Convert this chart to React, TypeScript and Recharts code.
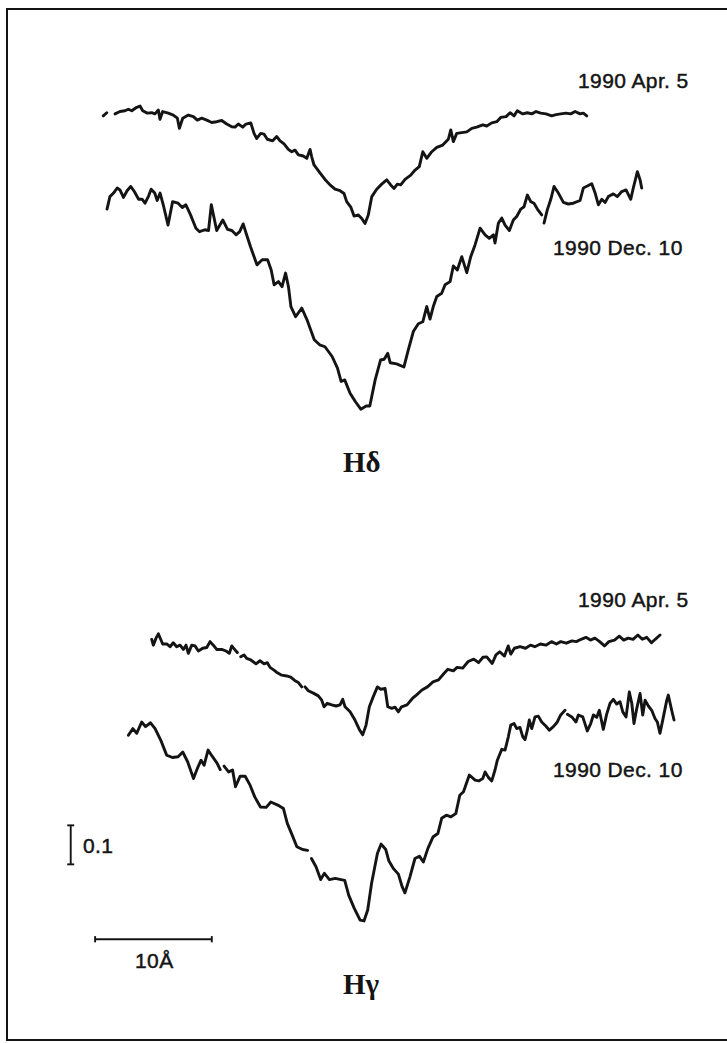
import { LineChart, Line, XAxis, YAxis, ReferenceLine } from 'recharts';

// wavelength offsets from line centre (Å) and relative flux
// null marks a break in the trace

// H-delta, 1990 Apr. 5
const hdAprWave = [
  -22.26, -21.96, -21.8, -21.25, -20.83, -20.40, -20.11, -19.82, -19.39, -19.11,
  -18.88, -18.49, -18.11, -17.83, -17.54, -17.40, -17.17, -16.69, -16.26, -15.91,
  -15.74, -15.45, -14.97, -14.54, -14.20, -13.82, -13.39, -12.97, -12.54, -12.11,
  -11.68, -11.25, -10.97, -10.69, -10.31, -10.03, -9.62, -9.34, -9.11, -8.77,
  -8.48, -8.20, -7.74, -7.40, -7.11, -6.77, -6.40, -6.11, -5.83, -5.54,
  -5.12, -4.82, -4.54, -4.40, -4.20, -3.69, -3.26, -2.83, -2.40, -1.97,
  -1.63, -1.40, -1.05, -0.77, -0.40, -0.11, 0.17, 0.45, 0.75, 1.17,
  1.60, 2.03, 2.37, 2.66, 2.94, 3.23, 3.60, 4.09, 4.46, 4.82,
  5.12, 5.46, 5.89, 6.32, 6.83, 7.31, 7.52, 7.74, 8.03, 8.46,
  8.89, 9.32, 9.74, 10.26, 10.60, 11.03, 11.46, 11.80, 12.26, 12.60,
  12.94, 13.22, 13.69, 14.08, 14.46, 14.83, 15.23, 15.68, 16.17, 16.54,
  16.94, 17.40, 17.80, 18.17, 18.60, 18.88, 19.17,
];
const hdAprFlux = [
  0.985, 0.993, null, 0.990, 0.996, 0.998, 1.002, 0.998, 1.007, 1.010,
  0.998, 0.992, 0.993, 0.990, 1.000, 0.976, 0.996, 0.992, 0.987, 0.979,
  0.953, 0.979, 0.987, 0.983, 0.974, 0.979, 0.974, 0.968, 0.970, 0.973,
  0.964, 0.957, 0.956, 0.964, 0.956, 0.964, 0.967, 0.940, 0.927, 0.940,
  0.938, 0.925, 0.921, 0.932, 0.921, 0.913, 0.899, 0.893, 0.897, 0.885,
  0.882, 0.876, 0.899, 0.880, 0.859, 0.839, 0.822, 0.808, 0.797, 0.793,
  0.786, 0.765, 0.751, 0.728, 0.731, 0.722, 0.709, 0.731, 0.778, 0.797,
  0.810, 0.821, 0.808, 0.799, 0.810, 0.808, 0.822, 0.833, 0.846, 0.855,
  0.893, 0.876, 0.893, 0.904, 0.910, 0.925, 0.949, 0.919, 0.940, 0.942,
  0.944, 0.953, 0.956, 0.962, 0.959, 0.967, 0.970, 0.981, 0.983, 0.993,
  0.985, 0.998, 0.990, 0.993, 0.990, 0.996, 0.992, 0.990, 0.985, 0.988,
  0.990, 0.992, 0.990, 0.996, 0.990, 0.992, 0.985,
];

// H-delta, 1990 Dec. 10
const hdDecWave = [
  -21.94, -21.69, -21.38, -21.07, -20.83, -20.53, -20.22, -19.91, -19.60, -19.23,
  -18.92, -18.68, -18.37, -18.16, -17.85, -17.64, -17.39, -17.08, -16.71, -16.32,
  -15.85, -15.49, -15.18, -14.78, -14.32, -14.01, -13.55, -13.24, -13.00, -12.79,
  -12.54, -12.02, -11.61, -11.24, -10.88, -10.57, -10.27, -10.02, -9.65, -9.09,
  -8.64, -8.18, -7.87, -7.62, -7.25, -6.94, -6.64, -6.39, -6.18, -5.78,
  -5.25, -4.80, -4.18, -3.72, -3.26, -2.65, -2.19, -1.88, -1.57, -1.11,
  -0.65, -0.19, 0.27, 0.58, 1.04, 1.50, 1.81, 2.12, 2.33, 2.88,
  3.50, 3.88, 4.31, 4.74, 5.12, 5.46, 5.74, 6.02, 6.32, 6.74,
  7.03, 7.46, 7.74, 8.08, 8.46, 8.89, 9.23, 9.60, 10.03, 10.46,
  10.82, 11.17, 11.31, 11.60, 11.89, 12.17, 12.54, 12.88, 13.17, 13.52,
  13.80, 14.08, 14.37, 14.65, 14.94, 15.31, 15.41, 15.51, 15.79, 16.09,
  16.37, 16.74, 17.17, 17.59, 18.02, 18.60, 18.88, 19.22, 19.60, 19.88,
  20.17, 20.46, 20.74, 21.02, 21.45, 21.79, 22.17, 22.54, 22.94, 23.16,
  23.51, 23.74, 23.88,
];
const hdDecFlux = [
  0.938, 0.970, 0.979, 0.992, 0.987, 0.968, 0.985, 0.996, 0.983, 0.963,
  0.963, 0.953, 0.972, 0.989, 0.979, 0.960, 0.979, 0.944, 0.897, 0.957,
  0.953, 0.942, 0.949, 0.923, 0.889, 0.880, 0.885, 0.883, 0.949, 0.919,
  0.883, 0.910, 0.886, 0.883, 0.872, 0.880, 0.900, 0.876, 0.842, 0.795,
  0.808, 0.808, 0.782, 0.744, 0.752, 0.739, 0.774, 0.739, 0.688, 0.662,
  0.684, 0.654, 0.603, 0.590, 0.585, 0.560, 0.530, 0.496, 0.500, 0.466,
  0.444, 0.425, 0.433, 0.433, 0.500, 0.551, 0.553, 0.568, 0.544, 0.541,
  0.533, 0.577, 0.624, 0.644, 0.649, 0.688, 0.656, 0.688, 0.714, 0.722,
  0.744, 0.752, 0.792, 0.782, 0.816, 0.775, 0.816, 0.846, 0.889, 0.872,
  0.863, 0.872, 0.851, 0.902, 0.915, 0.897, 0.883, 0.910, 0.919, 0.938,
  0.944, 0.974, 0.957, 0.953, 0.938, 0.923, null, 0.902, 0.936, 0.963,
  0.996, 0.979, 0.955, 0.951, 0.953, 0.960, 0.992, 0.997, 1.003, 0.980,
  0.949, 0.963, 0.955, 0.970, 0.977, 0.970, 0.983, 0.987, 0.963, 0.992,
  1.034, 1.013, 0.992,
];

// H-gamma, 1990 Apr. 5
const hgAprWave = [
  -18.11, -17.97, -17.74, -17.54, -17.34, -17.17, -16.82, -16.54, -16.26, -15.97,
  -15.68, -15.40, -15.17, -14.97, -14.68, -14.40, -14.11, -13.74, -13.39, -13.11,
  -12.83, -12.54, -12.11, -11.74, -11.46, -11.25, -10.97, -10.77, -10.62, -10.48,
  -10.20, -9.97, -9.62, -9.17, -8.83, -8.48, -8.20, -7.97, -7.63, -7.34,
  -6.97, -6.54, -6.20, -5.83, -5.54, -5.25, -5.11, -4.97, -4.69, -4.26,
  -3.83, -3.54, -3.34, -3.06, -2.68, -2.31, -1.97, -1.74, -1.54, -1.11,
  -0.69, -0.32, -0.03, 0.26, 0.54, 0.88, 1.23, 1.52, 1.89, 2.12,
  2.46, 2.74, 3.03, 3.30, 3.77, 4.25, 4.57, 5.05, 5.52, 6.00,
  6.47, 6.95, 7.27, 7.74, 8.06, 8.54, 9.01, 9.49, 9.90, 10.28,
  10.60, 11.07, 11.39, 11.71, 12.12, 12.44, 12.66, 12.97, 13.45, 13.93,
  14.35, 14.72, 15.20, 15.67, 16.15, 16.57, 16.94, 17.42, 17.90, 18.28,
  18.69, 19.10, 19.49, 19.87, 20.28, 20.69, 21.07, 21.55, 21.96, 22.34,
  22.72, 23.14, 23.55, 23.93, 24.31, 24.72, 25.04, 25.45,
];
const hgAprFlux = [
  0.989, 0.974, 0.992, 1.003, 0.989, 0.977, 0.977, 0.970, 0.980, 0.970,
  0.974, 0.963, 0.974, 0.953, 0.974, 0.972, 0.959, 0.966, 0.968, 0.983,
  0.974, 0.963, 0.963, 0.959, 0.953, 0.972, 0.962, 0.955, null, 0.944,
  0.949, 0.940, 0.936, 0.926, 0.934, 0.926, 0.929, 0.917, 0.910, 0.903,
  0.897, 0.895, 0.892, 0.883, 0.878, 0.867, null, 0.867, 0.857, 0.851,
  0.844, 0.833, 0.816, 0.825, 0.821, 0.818, 0.821, 0.835, 0.816, 0.803,
  0.782, 0.758, 0.744, 0.769, 0.816, 0.842, 0.867, 0.861, 0.863, 0.816,
  0.812, 0.815, 0.803, 0.816, 0.821, 0.838, 0.846, 0.859, 0.867, 0.880,
  0.885, 0.902, 0.912, 0.908, 0.917, 0.915, 0.932, 0.938, 0.929, 0.943,
  0.944, 0.927, 0.949, 0.957, 0.946, 0.972, 0.951, 0.966, 0.970, 0.966,
  0.974, 0.970, 0.977, 0.974, 0.983, 0.977, 0.983, 0.979, 0.985, 0.983,
  0.989, 0.994, 0.987, 0.992, 0.983, 0.972, 0.983, 0.987, 0.997, 0.987,
  0.992, 0.989, 1.000, 0.989, 0.994, 0.980, 0.989, 1.000,
];

// H-gamma, 1990 Dec. 10
const hgDecWave = [
  -20.11, -19.72, -19.39, -18.97, -18.64, -18.21, -17.82, -17.33, -16.83, -16.34,
  -15.85, -15.45, -15.03, -14.53, -14.14, -13.88, -13.62, -13.28, -12.90, -12.50,
  -12.24, -12.08, -11.91, -11.52, -11.18, -10.93, -10.53, -10.10, -9.68, -9.28,
  -8.79, -8.30, -7.90, -7.31, -6.82, -6.49, -6.07, -5.67, -5.18, -4.75,
  -4.58, -4.42, -4.03, -3.63, -3.31, -2.88, -2.38, -1.89, -1.57, -1.23,
  -0.75, -0.25, 0.08, 0.40, 0.73, 1.23, 1.55, 1.95, 2.21, 2.61,
  3.03, 3.36, 3.59, 4.02, 4.45, 4.83, 5.17, 5.56, 5.99, 6.41,
  6.74, 7.14, 7.53, 7.95, 8.29, 8.61, 9.11, 9.60, 9.92, 10.26,
  10.46, 10.74, 11.03, 11.31, 11.51, 11.89, 12.17, 12.45, 12.66, 12.94,
  13.17, 13.45, 13.69, 13.88, 14.08, 14.25, 14.46, 14.74, 15.02, 15.31,
  15.68, 15.97, 16.31, 16.65, 16.94, 17.31, 17.41, 17.51, 17.89, 18.25,
  18.45, 18.83, 19.22, 19.51, 19.74, 20.03, 20.25, 20.59, 20.88, 21.17,
  21.45, 21.74, 22.02, 22.26, 22.54, 22.82, 23.03, 23.22, 23.46, 23.74,
  23.97, 24.17, 24.45, 24.74, 25.02, 25.22, 25.45, 25.74, 26.03, 26.16,
  26.45, 26.65,
];
const hgDecFlux = [
  0.910, 0.927, 0.915, 0.944, 0.932, 0.942, 0.927, 0.897, 0.859, 0.853,
  0.855, 0.867, 0.842, 0.799, 0.829, 0.846, 0.833, 0.872, 0.855, 0.838,
  0.822, null, 0.831, 0.816, 0.821, 0.778, 0.805, 0.805, 0.782, 0.752,
  0.726, 0.725, 0.739, 0.731, 0.722, 0.684, 0.654, 0.624, 0.617, 0.615,
  null, 0.594, 0.573, 0.540, 0.556, 0.540, 0.543, 0.540, 0.538, 0.500,
  0.466, 0.436, 0.434, 0.462, 0.530, 0.607, 0.631, 0.617, 0.588, 0.568,
  0.554, 0.521, 0.506, 0.547, 0.594, 0.600, 0.585, 0.620, 0.649, 0.658,
  0.697, 0.705, 0.701, 0.709, 0.756, 0.765, 0.808, 0.795, 0.793, 0.799,
  0.816, 0.802, 0.793, 0.821, 0.846, 0.874, 0.872, 0.906, 0.936, 0.940,
  0.927, 0.930, 0.906, 0.899, 0.923, 0.949, 0.927, 0.957, 0.959, 0.944,
  0.933, 0.923, 0.932, 0.944, 0.962, 0.974, null, 0.964, 0.957, 0.944,
  0.962, 0.957, 0.921, 0.940, 0.962, 0.956, 0.974, 0.925, 0.964, 0.992,
  1.002, 0.990, 0.996, 0.970, 0.957, 1.021, 0.992, 0.940, 0.979, 1.017,
  0.962, 1.000, 0.985, 0.974, 0.953, 0.944, 0.915, 0.957, 1.000, 1.013,
  0.974, 0.949,
];

const W = 727;
const H = 1043;
const XMIN = -31.11;
const XMAX = 31.19;
const YMAX = 2.674;
const INK = '#141414';

// vertical stacking of the four traces
const spectra = [
  { key: 'hdApr', wave: hdAprWave, flux: hdAprFlux, offset: 1.392 },
  { key: 'hdDec', wave: hdDecWave, flux: hdDecFlux, offset: 1.2 },
  { key: 'hgApr', wave: hgAprWave, flux: hgAprFlux, offset: 0.046 },
  { key: 'hgDec', wave: hgDecWave, flux: hgDecFlux, offset: -0.121 },
].map(s => ({
  key: s.key,
  rows: s.wave.map((x, i) => ({ x, y: s.flux[i] === null ? null : (s.flux[i] as number) + s.offset })),
}));

// scale bars: 0.1 in flux, 10 Å in wavelength
const FLUX_BAR = 0.1;
const WAVE_BAR = 10;
const fluxBar = { x: -25.05, y: 0.458 };
const waveBar = { x: -22.96, y: 0.266 };

const labelStyle = {
  fontFamily: '"Liberation Sans", Arial, sans-serif',
  fontSize: 21,
  fill: INK,
  stroke: INK,
  strokeWidth: 0.45,
  letterSpacing: 0.4,
};
const lineNameStyle = {
  fontFamily: '"Liberation Serif", "Times New Roman", serif',
  fontSize: 29,
  fontWeight: 700,
  fill: INK,
};

const App = () => {
  const seg = (x1: number, y1: number, x2: number, y2: number, k: string, w = 1.9) => (
    <ReferenceLine
      key={k}
      segment={[{ x: x1, y: y1 }, { x: x2, y: y2 }]}
      stroke={INK}
      strokeWidth={w}
      ifOverflow="visible"
    />
  );

  return (
    <div style={{ position: 'absolute', left: 0, top: 0, width: W, height: H, background: '#fff', overflow: 'hidden' }}>
      {/* frame */}
      <div style={{ position: 'absolute', left: 6, top: 8, width: 740, height: 1029, border: `2px solid ${INK}` }} />

      <LineChart width={W} height={H} margin={{ top: 0, right: 0, bottom: 0, left: 0 }}>
        <XAxis type="number" dataKey="x" domain={[XMIN, XMAX]} hide allowDataOverflow />
        <YAxis type="number" domain={[0, YMAX]} hide allowDataOverflow />
        {spectra.map(s => (
          <Line
            key={s.key}
            data={s.rows}
            dataKey="y"
            type="linear"
            stroke={INK}
            strokeWidth={2.9}
            strokeLinejoin="round"
            strokeLinecap="round"
            dot={false}
            activeDot={false}
            isAnimationActive={false}
          />
        ))}
        {seg(fluxBar.x, fluxBar.y, fluxBar.x, fluxBar.y + FLUX_BAR, 'fb')}
        {seg(fluxBar.x - 0.3, fluxBar.y, fluxBar.x + 0.3, fluxBar.y, 'fb0')}
        {seg(fluxBar.x - 0.3, fluxBar.y + FLUX_BAR, fluxBar.x + 0.3, fluxBar.y + FLUX_BAR, 'fb1')}
        {seg(waveBar.x, waveBar.y, waveBar.x + WAVE_BAR, waveBar.y, 'wb')}
        {seg(waveBar.x, waveBar.y - 0.008, waveBar.x, waveBar.y + 0.008, 'wb0')}
        {seg(waveBar.x + WAVE_BAR, waveBar.y - 0.008, waveBar.x + WAVE_BAR, waveBar.y + 0.008, 'wb1')}
      </LineChart>

      <svg width={W} height={H} style={{ position: 'absolute', left: 0, top: 0, pointerEvents: 'none' }}>
        <text x={578} y={88} style={labelStyle}>1990 Apr. 5</text>
        <text x={553} y={255} style={labelStyle}>1990 Dec. 10</text>
        <text x={343} y={472} style={lineNameStyle}>Hδ</text>
        <text x={578} y={607} style={labelStyle}>1990 Apr. 5</text>
        <text x={553} y={777} style={labelStyle}>1990 Dec. 10</text>
        <text x={343} y={994} style={lineNameStyle}>Hγ</text>
        <text x={83} y={853} style={labelStyle}>0.1</text>
        <text x={135} y={968} style={labelStyle}>10Å</text>
      </svg>
    </div>
  );
};

export default App;
